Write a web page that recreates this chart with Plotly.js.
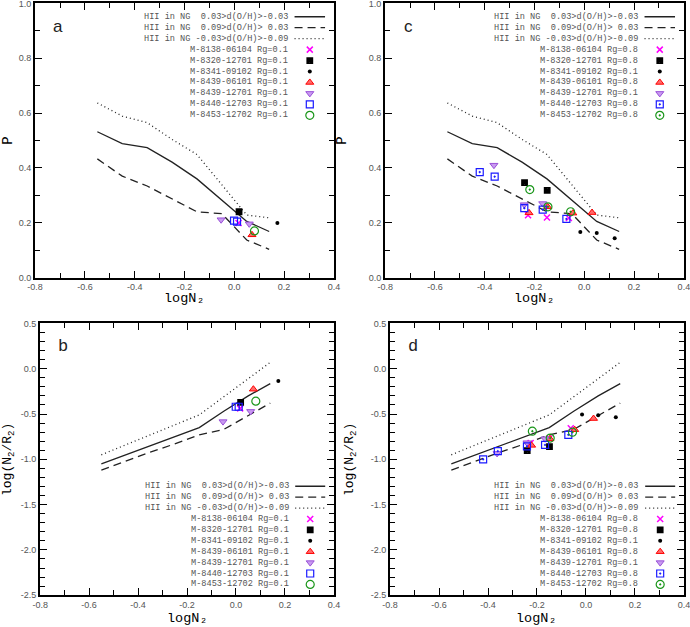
<!DOCTYPE html>
<html><head><meta charset="utf-8">
<script src="https://cdn.plot.ly/plotly-3.0.1.min.js"></script>
<style>html,body{margin:0;padding:0;background:#fff}#chart{width:690px;height:627px}</style>
</head><body><div id="chart"></div>
<script>
// ---------- data ----------
const lineX   = [-0.55, -0.45, -0.35, -0.25, -0.15, -0.05, 0.05, 0.14];
// P model lines (panels a, c)
const pSolid  = [0.532, 0.489, 0.474, 0.421, 0.360, 0.282, 0.205, 0.168];
const pDashed = [0.433, 0.370, 0.334, 0.288, 0.240, 0.233, 0.137, 0.103];
const pDotted = [0.637, 0.589, 0.565, 0.504, 0.449, 0.340, 0.228, 0.218];
// log(N2/R2) model lines (panels b, d)
const rSolid  = [-1.05, -0.95, -0.85, -0.75, -0.65, -0.47, -0.30, -0.165];
const rDashed = [-1.12, -1.02, -0.92, -0.83, -0.73, -0.67, -0.52, -0.38];
const rDotted = [-0.95, -0.84, -0.73, -0.62, -0.51, -0.31, -0.11, 0.07];

const lineLabels = ["HII in NG  0.03>d(O/H)>-0.03", "HII in NG  0.09>d(O/H)> 0.03", "HII in NG -0.03>d(O/H)>-0.09"];
const sampleNames = ["M-8138-06104", "M-8320-12701", "M-8341-09102", "M-8439-06101", "M-8439-12701", "M-8440-12703", "M-8453-12702"];
const rgLeft  = ["0.1", "0.1", "0.1", "0.1", "0.1", "0.1", "0.1"];
const rgRight = ["0.8", "0.8", "0.1", "0.8", "0.1", "0.8", "0.8"];

// panels a, b (Rg = 0.1)
const abN2 = [[0.017], [0.019], [0.173], [0.071], [-0.053, 0.060], [-0.001, 0.011], [0.081]];
const aP   = [[0.199], [0.240], [0.199], [0.156], [0.211, 0.196], [0.208, 0.204], [0.170]];
const bR   = [[-0.438], [-0.372], [-0.136], [-0.226], [-0.584, -0.471], [-0.420, -0.420], [-0.358]];
// panels c, d
const cdN2 = [[-0.226, -0.150, -0.062], [-0.240, -0.149], [-0.016, 0.050, 0.122], [-0.222, -0.147, -0.046, 0.031],
              [-0.363, -0.241, -0.167], [-0.420, -0.360, -0.241, -0.167, -0.072], [-0.219, -0.146, -0.055]];
const cP   = [[0.227, 0.219, 0.217], [0.346, 0.318], [0.166, 0.163, 0.143], [0.236, 0.258, 0.235, 0.237],
              [0.410, 0.266, 0.270], [0.385, 0.368, 0.253, 0.248, 0.214], [0.321, 0.258, 0.240]];
const dR   = [[-0.821, -0.770, -0.657], [-0.905, -0.861], [-0.505, -0.515, -0.536], [-0.846, -0.774, -0.673, -0.550],
              [-0.935, -0.817, -0.773], [-1.000, -0.910, -0.857, -0.841, -0.730], [-0.690, -0.766, -0.701]];

const pTicks = [0, 0.2, 0.4, 0.6, 0.8, 1.0];
const rTicks = [0.5, 0.0, -0.5, -1.0, -1.5, -2.0, -2.5];
const nTicks = [-0.8, -0.6, -0.4, -0.2, 0.0, 0.2, 0.4];

// ---------- styles ----------
const lineStyles = [
  {color: '#222', width: 1.3, dash: 'solid'},
  {color: '#222', width: 1.3, dash: '8px,5px'},
  {color: '#222', width: 1.3, dash: '1px,3px'}
];
function markerStyle(i, dotted) {
  const s = [
    {symbol: 'x-thin-open', size: 6, color: '#ff00ff', line: {color: '#ff00ff', width: 1.5}},
    {symbol: 'square-x-open', size: 5, color: '#000', line: {color: '#000', width: 1.8}},
    {symbol: 'circle', size: 4, color: '#000', line: {width: 0}},
    {symbol: 'triangle-up', size: 7, color: '#ff6a6a', line: {color: '#ff0000', width: 1}},
    {symbol: 'triangle-down', size: 7, color: '#c89af0', line: {color: '#9a50d8', width: 1}},
    {symbol: dotted ? 'square-open-dot' : 'square-open', size: 7, color: '#1a1aff', line: {color: '#1a1aff', width: 1.2}},
    {symbol: dotted ? 'circle-open-dot' : 'circle-open', size: 8, color: '#1a961a', line: {color: '#1a961a', width: 1.2}}
  ];
  return s[i];
}

const monoFont = 'Liberation Mono, DejaVu Sans Mono, Courier New, monospace';
const sansFont = 'Liberation Sans, Arial, sans-serif';

// ---------- panels ----------
const panels = [
  {xa: 'x',  ya: 'y',  lx: 'x5', ly: 'y5', xd: [0.0507, 0.4841], yd: [0.5571, 0.9947], top: true,  letter: 'a', letterFont: sansFont, rg: rgLeft,  nx: abN2, ny: aP, dots: false},
  {xa: 'x2', ya: 'y2', lx: 'x6', ly: 'y6', xd: [0.5580, 0.9913], yd: [0.5571, 0.9947], top: true,  letter: 'c', letterFont: sansFont, rg: rgRight, nx: cdN2, ny: cP, dots: true},
  {xa: 'x3', ya: 'y3', lx: 'x7', ly: 'y7', xd: [0.0580, 0.4841], yd: [0.0505, 0.4844], top: false, letter: 'b', letterFont: monoFont, rg: rgLeft,  nx: abN2, ny: bR, dots: false},
  {xa: 'x4', ya: 'y4', lx: 'x8', ly: 'y8', xd: [0.5652, 0.9913], yd: [0.0505, 0.4844], top: false, letter: 'd', letterFont: monoFont, rg: rgRight, nx: cdN2, ny: dR, dots: true}
];

const traces = [];
const annotations = [];
const shapes = [];
const layout = {
  width: 690, height: 627,
  margin: {l: 0, r: 0, t: 0, b: 0},
  paper_bgcolor: '#fff', plot_bgcolor: '#fff',
  showlegend: false,
  annotations: annotations, shapes: shapes
};

function axName(ref) { return ref.replace('x', 'xaxis').replace('y', 'yaxis'); }

const common = {
  ticks: 'inside', ticklen: 7, tickwidth: 1, tickcolor: '#000',
  showline: true, linewidth: 2, linecolor: '#000', mirror: 'allticks',
  showgrid: false, zeroline: false, automargin: false, ticklabeloverflow: 'allow',
  tickfont: {family: sansFont, size: 9, color: '#555'}
};

panels.forEach((p, k) => {
  const lines = p.top ? [pSolid, pDashed, pDotted] : [rSolid, rDashed, rDotted];
  lines.forEach((ys, i) => {
    traces.push({type: 'scatter', mode: 'lines', x: lineX, y: ys, xaxis: p.xa, yaxis: p.ya,
      line: lineStyles[i], hoverinfo: 'skip'});
  });
  p.nx.forEach((xs, i) => {
    traces.push({type: 'scatter', mode: 'markers', x: xs, y: p.ny[i], xaxis: p.xa, yaxis: p.ya,
      marker: markerStyle(i, p.dots), cliponaxis: false});
  });

  layout[axName(p.xa)] = Object.assign({}, common, {
    domain: p.xd, anchor: p.ya, range: [-0.8005, 0.4005],
    tickmode: 'array', tickvals: nTicks, ticktext: nTicks.map(v => v.toFixed(1)),
    minor: {dtick: 0.1, tick0: 0, ticks: 'inside', ticklen: 5, tickcolor: '#000', showgrid: false}
  });
  layout[axName(p.ya)] = p.top ? Object.assign({}, common, {
    domain: p.yd, anchor: p.xa, range: [-0.0005, 1.0005],
    tickmode: 'array', tickvals: pTicks, ticktext: pTicks.map(v => v.toFixed(1)),
    minor: {dtick: 0.1, tick0: 0, ticks: 'inside', ticklen: 5, tickcolor: '#000', showgrid: false},
    title: {text: 'P', font: {family: monoFont, size: 14, color: '#000'}}
  }) : Object.assign({}, common, {
    domain: p.yd, anchor: p.xa, range: [-2.5015, 0.5015],
    tickmode: 'array', tickvals: rTicks, ticktext: rTicks.map(v => v.toFixed(1)),
    minor: {dtick: 0.1, tick0: 0, ticks: 'inside', ticklen: 5, tickcolor: '#000', showgrid: false},
    title: {text: 'log(N<sub>2</sub>/R<sub>2</sub>)', font: {family: monoFont, size: 13, color: '#000'}}
  });
  // overlay axes for the in-panel legend (0..1 of the panel)
  layout[axName(p.lx)] = {overlaying: p.xa, range: [0, 1], visible: false, anchor: p.ly};
  layout[axName(p.ly)] = {overlaying: p.ya, range: [0, 1], visible: false, anchor: p.lx};

  // x-axis title, placed below the tick labels
  annotations.push({xref: 'paper', yref: 'paper', x: (p.xd[0] + p.xd[1]) / 2,
    y: p.top ? 0.5235 : 0.0, text: 'logN\u2082', showarrow: false, xanchor: 'center',
    yanchor: p.top ? 'middle' : 'bottom', borderpad: 0,
    font: {family: monoFont, size: 13.5, color: '#000'}});

  // panel letter
  annotations.push({xref: p.lx, yref: p.ly, x: 0.077, y: 0.915, text: p.letter, showarrow: false,
    xanchor: 'center', yanchor: 'middle', font: {family: p.letterFont, size: 17, color: '#222'}});

  // legend
  const rowStart = p.top ? 0.951 : 0.401;
  const rowStep = p.top ? 0.0399 : 0.0401;
  const txtX = 0.852, l0 = 0.868, l1 = 0.97, mX = 0.919;
  const legFont = {family: monoFont, size: 8.6, color: '#555'};
  lineLabels.forEach((lab, i) => {
    const yy = rowStart - i * rowStep;
    annotations.push({xref: p.lx, yref: p.ly, x: txtX, y: yy, text: lab.replace(/ /g, '\u00a0'),
      showarrow: false, xanchor: 'right', yanchor: 'middle', font: legFont});
    shapes.push({type: 'line', xref: p.lx, yref: p.ly, x0: l0, x1: l1, y0: yy, y1: yy,
      line: {color: lineStyles[i].color, width: lineStyles[i].width, dash: lineStyles[i].dash}});
  });
  sampleNames.forEach((nm, i) => {
    const yy = rowStart - (i + 3) * rowStep;
    annotations.push({xref: p.lx, yref: p.ly, x: txtX, y: yy, text: (nm + ' Rg=' + p.rg[i]).replace(/ /g, '\u00a0'),
      showarrow: false, xanchor: 'right', yanchor: 'middle', font: legFont});
    traces.push({type: 'scatter', mode: 'markers', x: [mX], y: [yy], xaxis: p.lx, yaxis: p.ly,
      marker: markerStyle(i, p.dots), hoverinfo: 'skip', cliponaxis: false});
  });
});

Plotly.newPlot('chart', traces, layout, {displayModeBar: false, staticPlot: true});
</script>
</body></html>
